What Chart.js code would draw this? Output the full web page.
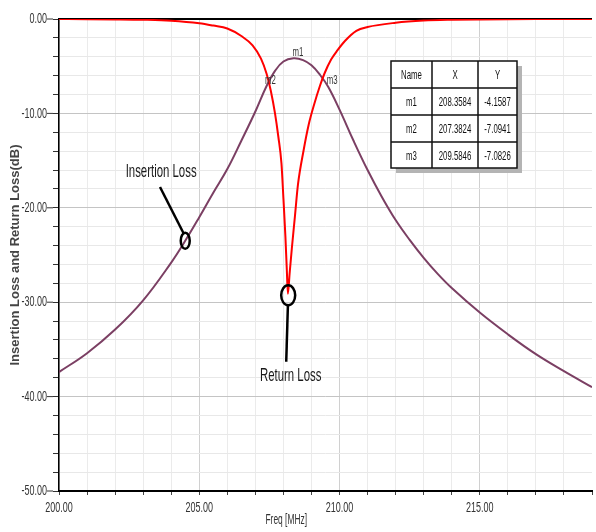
<!DOCTYPE html>
<html>
<head>
<meta charset="utf-8">
<script src="https://cdn.jsdelivr.net/npm/chart.js@4.4.1/dist/chart.umd.min.js"></script>
<style>
  html, body { margin: 0; padding: 0; background: #fff; }
  canvas { display: block; }
</style>
</head>
<body>
<canvas id="myChart" width="596" height="532" style="width:596px;height:532px"></canvas>
<script>
// values
const ilFreq = [200, 201, 202, 203, 204, 204.5, 205, 205.5, 206, 206.5, 207, 207.4, 207.7, 208.0, 208.36,
  208.7, 209, 209.3, 209.6, 210, 210.5, 211, 211.5, 212, 212.5, 213, 213.5, 214, 215, 216, 217, 218, 219];
const ilDb = [-37.4, -35.4, -32.9, -29.8, -25.8, -23.5, -21.0, -18.4, -15.9, -12.9, -9.8, -7.1, -5.5, -4.5, -4.16,
  -4.35, -4.9, -5.9, -7.2, -9.6, -12.9, -16.0, -18.8, -21.3, -23.4, -25.3, -27.0, -28.5, -31.1, -33.4, -35.5, -37.3, -39.0];

const rlFreq = [200, 201, 202, 203, 204, 205, 205.5, 206, 206.5, 206.9, 207.2, 207.4, 207.55, 207.7, 207.82,
  207.93, 208.0, 208.07, 208.12, 208.16, 208.22, 208.3, 208.41, 208.52, 208.72, 208.9, 209.1, 209.3, 209.46,
  209.7, 209.93, 210.2, 210.6, 211, 212, 213, 214, 215, 216, 217, 218, 219];
const rlDb = [-0.01, -0.02, -0.04, -0.08, -0.18, -0.45, -0.7, -1.0, -1.8, -2.8, -4.2, -5.8, -7.6, -10.0, -12.5,
  -15.3, -19.0, -23.0, -26.5, -29.1, -27.0, -24.3, -20.9, -17.5, -13.9, -11.2, -9.0, -7.1, -5.8,
  -4.3, -3.3, -2.3, -1.25, -0.85, -0.4, -0.17, -0.08, -0.04, -0.02, -0.01, -0.01, -0.01];

const markerNames = ['m1', 'm2', 'm3'];
const markerFreq = [208.3584, 207.3824, 209.5846];
const markerDb = [-4.1587, -7.0941, -7.0826];

const xLabels = [200, 205, 210, 215];
const yLabels = [0, -10, -20, -30, -40, -50];

const FONT = "'Liberation Sans', Arial, sans-serif";
const NARROW = 0.6;

// the original export has horizontally squeezed lettering
const narrowText = {
  id: 'narrowText',
  beforeDraw(chart) {
    const ctx = chart.ctx;
    if (ctx._narrow) return;
    const fill = ctx.fillText.bind(ctx);
    ctx.fillText = function (text, x, y, maxWidth) {
      const t = ctx.getTransform();
      if (Math.abs(t.b) > 0.01) {
        return maxWidth === undefined ? fill(text, x, y) : fill(text, x, y, maxWidth);
      }
      ctx.save();
      ctx.translate(x, y);
      ctx.scale(NARROW, 1);
      if (maxWidth === undefined) fill(text, 0, 0);
      else fill(text, 0, 0, maxWidth / NARROW);
      ctx.restore();
    };
    ctx._narrow = true;
  }
};

const frame = {
  id: 'frame',
  beforeDatasetsDraw(chart) {
    const { ctx, chartArea } = chart;
    ctx.save();
    ctx.strokeStyle = '#000';
    ctx.lineWidth = 2;
    ctx.beginPath();
    ctx.moveTo(chartArea.left, chartArea.top);
    ctx.lineTo(chartArea.right, chartArea.top);
    ctx.stroke();
    ctx.restore();
  }
};

const callouts = {
  id: 'callouts',
  afterDatasetsDraw(chart) {
    const { ctx, chartArea } = chart;
    const xs = chart.scales.x, ys = chart.scales.y;
    const px = f => xs.getPixelForValue(f);
    const py = v => ys.getPixelForValue(v);
    ctx.save();

    // longer marks at the labelled y ticks
    ctx.strokeStyle = '#333';
    ctx.lineWidth = 1;
    yLabels.forEach(v => {
      ctx.beginPath();
      ctx.moveTo(chartArea.left - 12, py(v));
      ctx.lineTo(chartArea.left - 6, py(v));
      ctx.stroke();
    });

    // hand drawn call-outs
    ctx.strokeStyle = '#000';
    ctx.lineWidth = 2.5;
    ctx.beginPath();
    ctx.ellipse(px(204.5), py(-23.5), 4.5, 8, 0, 0, Math.PI * 2);
    ctx.stroke();
    ctx.beginPath();
    ctx.moveTo(px(203.6), py(-17.8));
    ctx.lineTo(px(204.44), py(-22.7));
    ctx.stroke();

    ctx.beginPath();
    ctx.ellipse(px(208.17), py(-29.27), 7, 10, 0, 0, Math.PI * 2);
    ctx.stroke();
    ctx.beginPath();
    ctx.moveTo(px(208.16), py(-30.3));
    ctx.lineTo(px(208.1), py(-36.3));
    ctx.stroke();

    ctx.fillStyle = '#1a1a1a';
    ctx.textAlign = 'center';
    ctx.textBaseline = 'alphabetic';
    ctx.font = '19px ' + FONT;
    ctx.fillText('Insertion Loss', px(203.64), py(-16.7));
    ctx.fillText('Return Loss', px(208.26), py(-38.3));

    // marker names
    ctx.font = '13px ' + FONT;
    ctx.textAlign = 'left';
    ctx.fillStyle = '#333';
    markerNames.forEach((m, i) => {
      ctx.fillText(m, px(markerFreq[i]) - 1, py(markerDb[i]) - 2);
    });

    // x axis title
    ctx.font = '14px ' + FONT;
    ctx.textAlign = 'center';
    ctx.fillStyle = '#333';
    ctx.fillText('Freq [MHz]', px(208.1), chartArea.bottom + 33);

    // marker table
    const cols = [391, 432, 478, 517];
    const rows = [61, 88, 115, 142, 168];
    const w = cols[3] - cols[0], h = rows[4] - rows[0];
    ctx.fillStyle = '#b4b4b4';
    ctx.fillRect(cols[0] + 5, rows[0] + 5, w, h);
    ctx.fillStyle = '#fff';
    ctx.fillRect(cols[0], rows[0], w, h);
    ctx.strokeStyle = '#111';
    ctx.lineWidth = 1.5;
    ctx.strokeRect(cols[0], rows[0], w, h);
    ctx.beginPath();
    cols.slice(1, 3).forEach(c => { ctx.moveTo(c, rows[0]); ctx.lineTo(c, rows[4]); });
    rows.slice(1, 4).forEach(r => { ctx.moveTo(cols[0], r); ctx.lineTo(cols[3], r); });
    ctx.stroke();

    const table = [['Name', 'X', 'Y']].concat(markerNames.map((m, i) =>
      [m, markerFreq[i].toFixed(4), markerDb[i].toFixed(4)]));
    ctx.fillStyle = '#111';
    ctx.font = '13px ' + FONT;
    ctx.textAlign = 'center';
    ctx.textBaseline = 'middle';
    table.forEach((row, r) => {
      row.forEach((cell, c) => {
        ctx.fillText(cell, (cols[c] + cols[c + 1]) / 2, (rows[r] + rows[r + 1]) / 2 + 1);
      });
    });
    ctx.restore();
  }
};

const ctx = document.getElementById('myChart').getContext('2d');
const myChart = new Chart(ctx, {
  type: 'line',
  data: {
    datasets: [
      {
        label: 'Return Loss',
        data: rlFreq.map((f, i) => ({ x: f, y: rlDb[i] })),
        borderColor: '#ff0000',
        borderWidth: 2,
        pointRadius: 0,
        cubicInterpolationMode: 'monotone',
        fill: false
      },
      {
        label: 'Insertion Loss',
        data: ilFreq.map((f, i) => ({ x: f, y: ilDb[i] })),
        borderColor: '#7b3f63',
        borderWidth: 2,
        pointRadius: 0,
        tension: 0.4,
        fill: false
      }
    ]
  },
  options: {
    responsive: false,
    animation: false,
    layout: { padding: { top: 19, left: 0, right: 0, bottom: 0 } },
    plugins: {
      legend: { display: false },
      tooltip: { enabled: false }
    },
    scales: {
      x: {
        type: 'linear',
        min: 200,
        max: 219,
        afterFit(scale) { scale.height = 41; },
        border: { color: '#000', width: 2 },
        grid: {
          color: c => c.tick.value === 219 ? 'rgba(0,0,0,0)' : (c.tick.value % 5 === 0 ? '#d0d0d0' : '#ebebeb'),
          tickColor: '#444',
          tickLength: 4
        },
        ticks: {
          stepSize: 1,
          autoSkip: false,
          maxRotation: 0,
          padding: 4,
          color: '#333',
          font: { family: FONT, size: 15 },
          callback: v => xLabels.includes(v) ? v.toFixed(2) : ''
        }
      },
      y: {
        type: 'linear',
        min: -50,
        max: 0,
        afterFit(scale) { scale.width = 59; },
        border: { color: '#000', width: 1.5 },
        grid: {
          color: c => c.tick.value % 10 === 0 ? '#c4c4c4' : '#e8e8e8',
          tickColor: '#333',
          tickLength: 6
        },
        ticks: {
          stepSize: 2,
          autoSkip: false,
          padding: 6,
          color: '#333',
          font: { family: FONT, size: 15 },
          callback: v => yLabels.includes(v) ? v.toFixed(2) : ''
        },
        title: {
          display: true,
          text: 'Insertion Loss and Return Loss(dB)',
          color: '#444',
          font: { family: FONT, size: 13, weight: 'bold' },
          padding: { top: 8, bottom: 0 }
        }
      }
    }
  },
  plugins: [narrowText, frame, callouts]
});
</script>
</body>
</html>
